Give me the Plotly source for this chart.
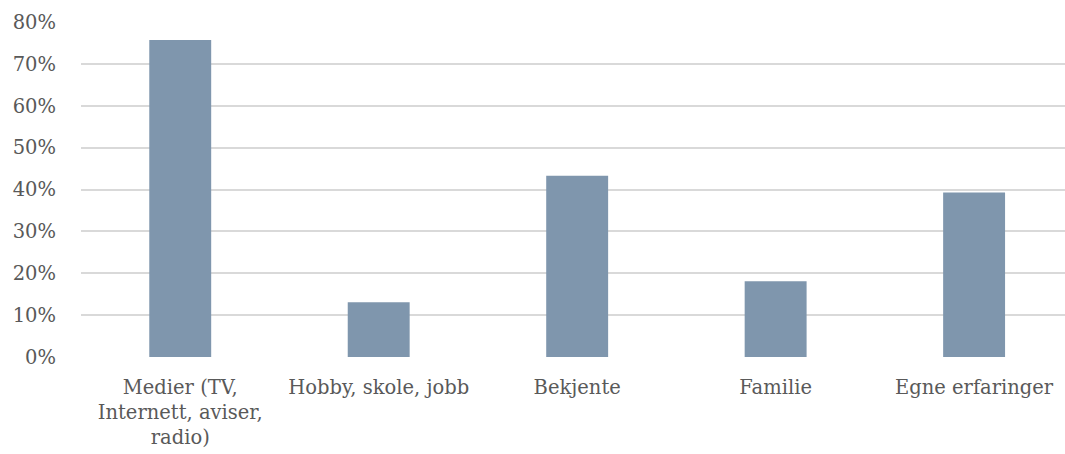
import plotly.graph_objects as go

categories = ["Medier (TV,<br>Internett, aviser,<br>radio)", "Hobby, skole, jobb", "Bekjente", "Familie", "Egne erfaringer"]
values = [75.7, 13.1, 43.3, 18.1, 39.3]
y_ticks = [0, 10, 20, 30, 40, 50, 60, 70, 80]
y_tick_labels = [f"{v}%" for v in y_ticks]

font = dict(family="DejaVu Serif", size=19.5, color="#595959")

fig = go.Figure(go.Bar(
    x=list(range(len(categories))),
    y=values,
    width=0.312,
    marker=dict(color="#7F96AD", line=dict(width=0)),
    hoverinfo="skip",
))

fig.update_layout(
    width=1065, height=454,
    margin=dict(l=81, r=0, t=22, b=97),
    paper_bgcolor="white", plot_bgcolor="white",
    font=font,
    showlegend=False,
    xaxis=dict(
        tickmode="array", tickvals=list(range(len(categories))), ticktext=categories,
        range=[-0.5, 4.458], showgrid=False, zeroline=False, showline=False,
        ticks="", ticklabelstandoff=16, tickfont=font,
    ),
    yaxis=dict(
        range=[0, 80], tickmode="array", tickvals=y_ticks, ticktext=y_tick_labels,
        showgrid=True, gridcolor="#D9D9D9", gridwidth=1.5, zeroline=False,
        showline=False, ticks="", ticklabelstandoff=24, tickfont=font,
    ),
)

post = (
    "document.body.style.margin='0';"
    "document.body.style.overflow='hidden';"
    "var gd=document.getElementById('{plot_id}');"
    "Plotly.relayout(gd,{width:1065,height:454});"
)

fig.write_html("out.html", post_script=post, config={"displayModeBar": False})
